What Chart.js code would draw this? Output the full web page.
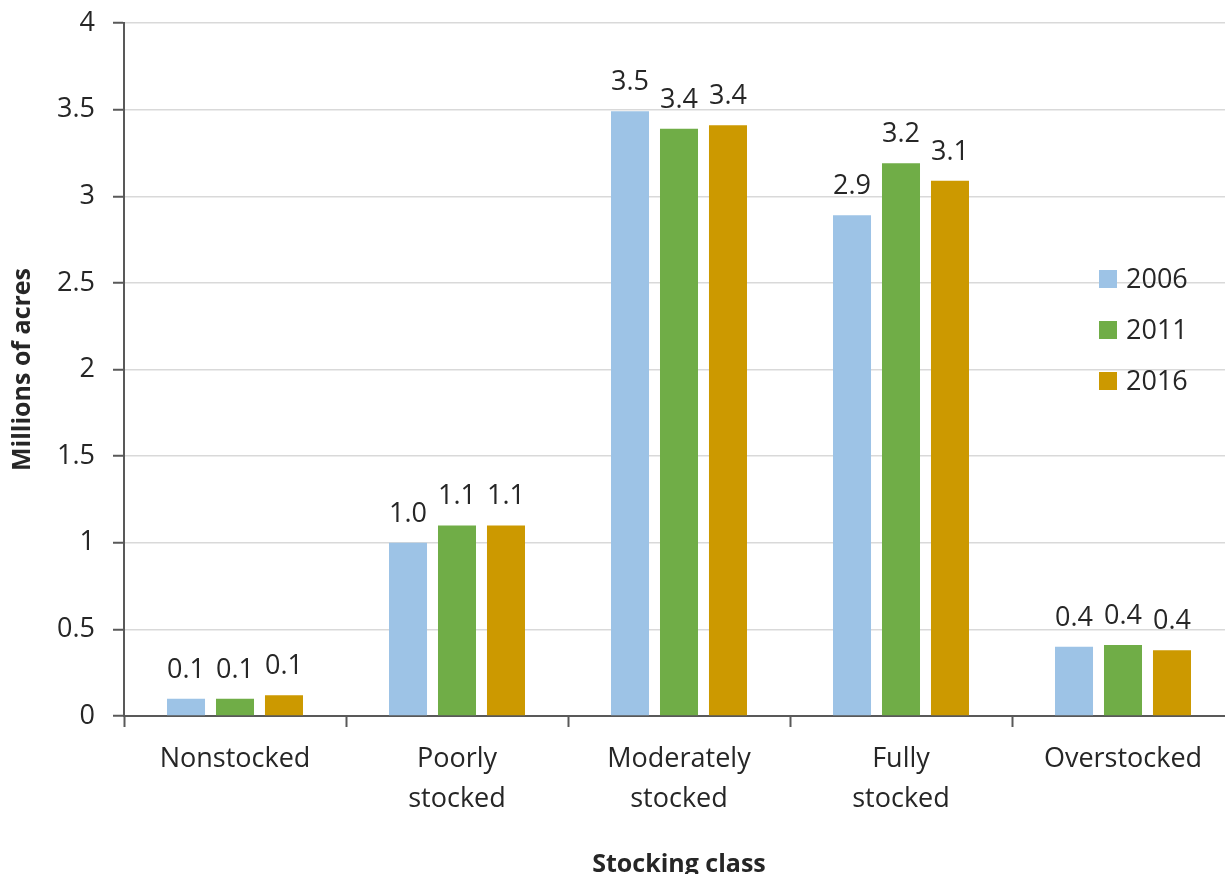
<!DOCTYPE html>
<html>
<head>
<meta charset="utf-8">
<script src="https://cdn.jsdelivr.net/npm/chart.js@4/dist/chart.umd.min.js"></script>
<style>
  html, body { margin: 0; padding: 0; background: #fff; overflow: hidden; }
  #wrap { width: 1225px; height: 874px; overflow: hidden; position: relative; }
  canvas { display: block; }
</style>
</head>
<body>
<div id="wrap"><canvas id="chart" width="1240" height="874"></canvas></div>
<script>
// Stocking classes along the horizontal axis
const categories = [
  'Nonstocked',
  ['Poorly', 'stocked'],
  ['Moderately', 'stocked'],
  ['Fully', 'stocked'],
  'Overstocked'
];

// Area by inventory year, millions of acres
const years = ['2006', '2011', '2016'];
const values2006 = [0.10, 1.00, 3.49, 2.89, 0.40];
const values2011 = [0.10, 1.10, 3.39, 3.19, 0.41];
const values2016 = [0.12, 1.10, 3.41, 3.09, 0.38];

const yTicks = [0, 0.5, 1, 1.5, 2, 2.5, 3, 3.5, 4];
const yTitle = 'Millions of acres';
const xTitle = 'Stocking class';

const colors = ['#9dc3e6', '#70ad47', '#cc9900'];
const textColor = '#262626';
const fontFamily = '"Open Sans", "DejaVu Sans", sans-serif';
const labelSize = 27;

// Value labels above each bar
const barLabels = {
  id: 'barLabels',
  afterDatasetsDraw(chart) {
    const ctx = chart.ctx;
    ctx.save();
    ctx.fillStyle = textColor;
    ctx.font = labelSize + 'px ' + fontFamily;
    ctx.textAlign = 'center';
    ctx.textBaseline = 'alphabetic';
    chart.data.datasets.forEach((ds, i) => {
      const meta = chart.getDatasetMeta(i);
      meta.data.forEach((bar, j) => {
        ctx.fillText(Number(ds.data[j]).toFixed(1), bar.x, bar.y - 21);
      });
    });
    ctx.restore();
  }
};

// Legend drawn inside the plot area, on the right
const insideLegend = {
  id: 'insideLegend',
  afterDraw(chart) {
    const ctx = chart.ctx;
    const area = chart.chartArea;
    const x0 = area.right - 135;
    const y0 = area.top + 256;
    const rowGap = 51;
    const box = 18;
    ctx.save();
    ctx.font = labelSize + 'px ' + fontFamily;
    ctx.textBaseline = 'middle';
    ctx.textAlign = 'left';
    chart.data.datasets.forEach((ds, i) => {
      const cy = y0 + i * rowGap;
      ctx.fillStyle = ds.backgroundColor;
      ctx.fillRect(x0, cy - box / 2, box, box);
      ctx.fillStyle = textColor;
      ctx.fillText(ds.label, x0 + 27, cy + 1);
    });
    ctx.restore();
  }
};

const seriesValues = [values2006, values2011, values2016];

new Chart(document.getElementById('chart'), {
  type: 'bar',
  data: {
    labels: categories,
    datasets: years.map((y, i) => ({
      label: y,
      data: seriesValues[i],
      backgroundColor: colors[i],
      borderWidth: 0,
      categoryPercentage: 0.662,
      barPercentage: 0.776
    }))
  },
  options: {
    responsive: false,
    animation: false,
    devicePixelRatio: 1,
    layout: { padding: { top: 23, right: 6, bottom: 0, left: 0 } },
    plugins: {
      legend: { display: false },
      tooltip: { enabled: false }
    },
    scales: {
      x: {
        grid: {
          display: true,
          drawOnChartArea: false,
          offset: true,
          tickLength: 11,
          tickColor: '#595959',
          tickWidth: 2
        },
        border: { color: '#595959', width: 2 },
        ticks: {
          color: textColor,
          font: { family: fontFamily, size: labelSize, lineHeight: 1.48 },
          padding: 12,
          maxRotation: 0,
          autoSkip: false
        },
        title: {
          display: true,
          text: xTitle,
          color: textColor,
          font: { family: fontFamily, size: 25, weight: 'bold' },
          padding: { top: 0, bottom: -6 }
        },
        afterFit(scale) { scale.height = 158; }
      },
      y: {
        min: 0,
        max: 4,
        afterBuildTicks(scale) { scale.ticks = yTicks.map(v => ({ value: v })); },
        grid: {
          color: '#d9d9d9',
          lineWidth: 1.5,
          tickLength: 11,
          tickColor: '#595959',
          tickWidth: 2
        },
        border: { color: '#595959', width: 2 },
        ticks: {
          color: textColor,
          font: { family: fontFamily, size: labelSize },
          padding: 18,
          callback: v => String(v)
        },
        title: {
          display: true,
          text: yTitle,
          color: textColor,
          font: { family: fontFamily, size: 25, weight: 'bold' },
          padding: { top: 8, bottom: 0 }
        },
        afterFit(scale) {
          scale.width = 124;
          scale.paddingTop = 0;
          scale.paddingBottom = 0;
        }
      }
    }
  },
  plugins: [barLabels, insideLegend]
});
</script>
</body>
</html>
